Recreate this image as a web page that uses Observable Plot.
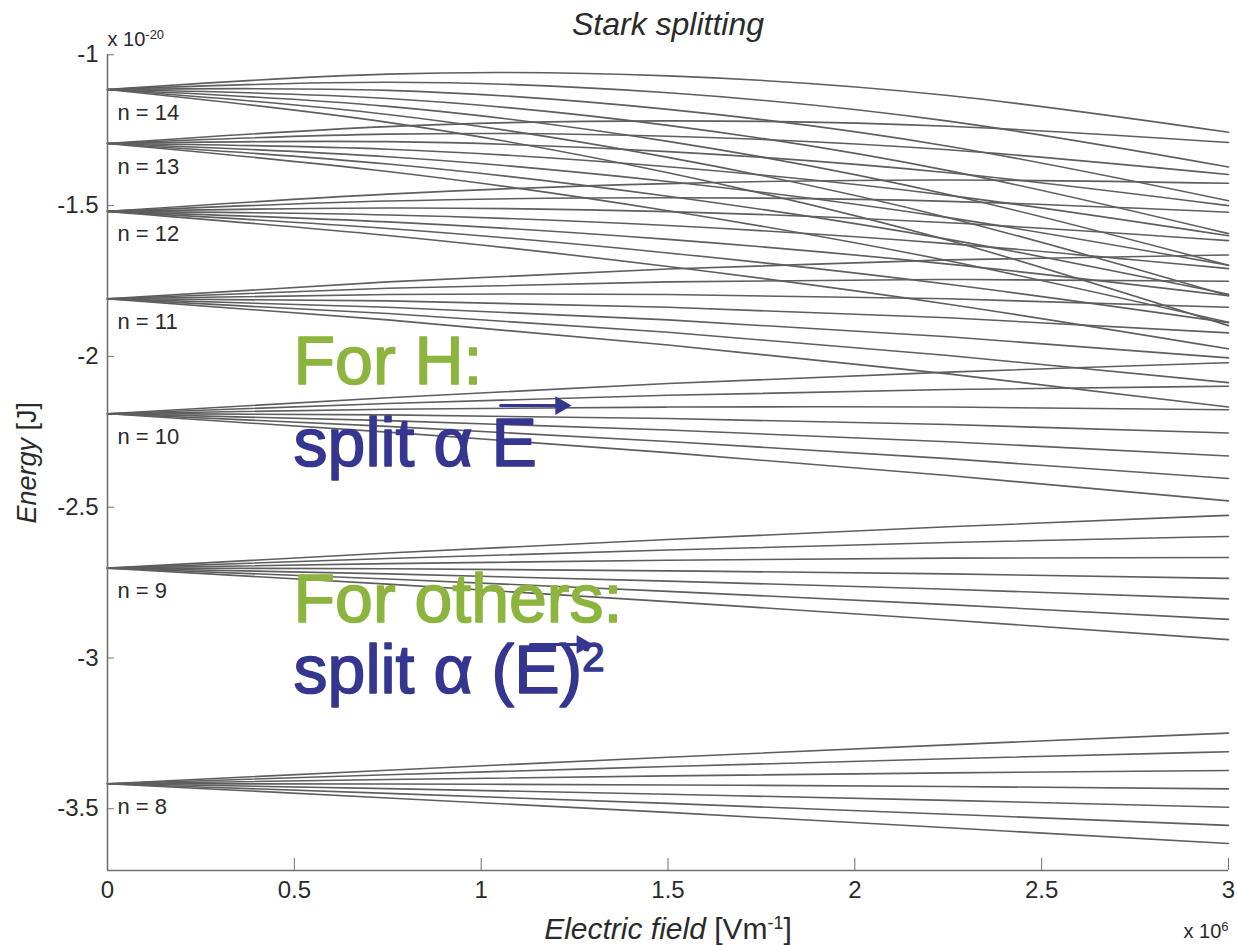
<!DOCTYPE html>
<html><head><meta charset="utf-8">
<script src="https://cdn.jsdelivr.net/npm/d3@7"></script>
<script src="https://cdn.jsdelivr.net/npm/@observablehq/plot@0.6"></script>
<style>body{margin:0;background:#fff}svg{display:block}</style>
</head><body><div id="chart"></div>
<script>
// Electric field sample positions (x 10^6 V/m)
const fieldX = [0, 0.75, 1.5, 2.25, 3];
// Energy (x 10^-20 J) of the 7 Stark components of each level, at fieldX
const n14 = [
 [-1.115, -1.064, -1.070, -1.135, -1.257],
 [-1.115, -1.091, -1.126, -1.220, -1.372],
 [-1.115, -1.118, -1.181, -1.303, -1.484],
 [-1.115, -1.145, -1.234, -1.384, -1.593],
 [-1.115, -1.171, -1.287, -1.463, -1.698],
 [-1.115, -1.198, -1.340, -1.540, -1.799],
 [-1.115, -1.224, -1.391, -1.615, -1.898]
];
const n13 = [
 [-1.294, -1.238, -1.219, -1.237, -1.291],
 [-1.294, -1.263, -1.270, -1.315, -1.397],
 [-1.294, -1.288, -1.321, -1.391, -1.500],
 [-1.294, -1.313, -1.371, -1.466, -1.600],
 [-1.294, -1.338, -1.420, -1.540, -1.698],
 [-1.294, -1.362, -1.469, -1.612, -1.794],
 [-1.294, -1.387, -1.517, -1.683, -1.887]
];
const n12 = [
 [-1.519, -1.462, -1.427, -1.415, -1.426],
 [-1.519, -1.485, -1.474, -1.486, -1.522],
 [-1.519, -1.508, -1.520, -1.557, -1.616],
 [-1.519, -1.531, -1.566, -1.626, -1.709],
 [-1.519, -1.554, -1.612, -1.694, -1.799],
 [-1.519, -1.576, -1.657, -1.761, -1.888],
 [-1.519, -1.599, -1.702, -1.827, -1.975]
];
const n11 = [
 [-1.809, -1.753, -1.710, -1.680, -1.664],
 [-1.809, -1.774, -1.753, -1.745, -1.751],
 [-1.809, -1.795, -1.795, -1.809, -1.837],
 [-1.809, -1.816, -1.837, -1.872, -1.922],
 [-1.809, -1.837, -1.879, -1.935, -2.005],
 [-1.809, -1.858, -1.920, -1.997, -2.087],
 [-1.809, -1.879, -1.962, -2.058, -2.168]
];
const n10 = [
 [-2.190, -2.137, -2.090, -2.052, -2.021],
 [-2.190, -2.156, -2.129, -2.110, -2.099],
 [-2.190, -2.175, -2.168, -2.168, -2.177],
 [-2.190, -2.194, -2.206, -2.226, -2.254],
 [-2.190, -2.213, -2.244, -2.283, -2.330],
 [-2.190, -2.232, -2.282, -2.339, -2.405],
 [-2.190, -2.251, -2.319, -2.395, -2.479]
];
const n9 = [
 [-2.702, -2.652, -2.607, -2.565, -2.527],
 [-2.702, -2.670, -2.642, -2.617, -2.597],
 [-2.702, -2.687, -2.676, -2.669, -2.667],
 [-2.702, -2.704, -2.711, -2.721, -2.736],
 [-2.702, -2.721, -2.745, -2.772, -2.804],
 [-2.702, -2.738, -2.779, -2.823, -2.872],
 [-2.702, -2.755, -2.813, -2.874, -2.939]
];
const n8 = [
 [-3.417, -3.372, -3.329, -3.288, -3.249],
 [-3.417, -3.387, -3.360, -3.334, -3.311],
 [-3.417, -3.403, -3.391, -3.381, -3.373],
 [-3.417, -3.418, -3.421, -3.426, -3.434],
 [-3.417, -3.433, -3.452, -3.472, -3.495],
 [-3.417, -3.449, -3.482, -3.518, -3.555],
 [-3.417, -3.464, -3.512, -3.563, -3.615]
];
const levels = [14, 13, 12, 11, 10, 9, 8];
const levelSets = [n14, n13, n12, n11, n10, n9, n8];
const levelLabels = ["n = 14", "n = 13", "n = 12", "n = 11", "n = 10", "n = 9", "n = 8"];
const xTicks = [0, 0.5, 1, 1.5, 2, 2.5, 3];
const yTicks = [-1, -1.5, -2, -2.5, -3, -3.5];
const notes = ["For H:", "split \u03B1 E", "For others:", "split \u03B1 (E)2"];
const green = "#8db43e", navy = "#35368f";

const rows = [];
levelSets.forEach((set, li) => set.forEach((line, k) => line.forEach((e, p) => {
  rows.push({id: levels[li] + "-" + k, x: fieldX[p], e});
})));
const starts = levelSets.map((s, i) => ({label: levelLabels[i], e: s[0][0]}));

const yMin = -3.7046, yMax = -1;
const axisCol = "#707070", textCol = "#2a2a2a";
const noteStyle = {lineAnchor: "bottom", textAnchor: "start", fontSize: 68, strokeWidth: 1.6, paintOrder: "fill"};
const arrow1 = [{x: 1.052, e: -2.163}, {x: 1.205, e: -2.163}];
const arrow2 = [{x: 1.132, e: -2.955}, {x: 1.262, e: -2.955}];

const plot = Plot.plot({
  width: 1235, height: 945,
  marginLeft: 107, marginRight: 7, marginTop: 54.3, marginBottom: 75,
  style: {fontFamily: "'Liberation Sans', Arial, sans-serif", background: "#fff", color: textCol},
  x: {domain: [0, 3]},
  y: {domain: [yMin, yMax]},
  marks: [
    Plot.line(rows, {x: "x", y: "e", z: "id", curve: "natural", stroke: "#5e5e5e", strokeWidth: 1.6}),
    Plot.ruleX([0], {stroke: axisCol, strokeWidth: 1.6}),
    Plot.ruleY([yMin], {stroke: axisCol, strokeWidth: 1.6}),
    Plot.axisX({ticks: xTicks, tickSize: -12, tickPadding: 22, tickFormat: d => String(d), fontSize: 24, stroke: axisCol, fill: textCol, label: null}),
    Plot.axisY({ticks: yTicks, tickSize: -7, tickPadding: 16, tickFormat: d => String(d), fontSize: 24, stroke: axisCol, fill: textCol, label: null}),
    Plot.text(starts, {x: 0, y: "e", text: "label", dx: 10, dy: 23, textAnchor: "start", fontSize: 22, fill: textCol}),
    Plot.text(["Stark splitting"], {frameAnchor: "top", lineAnchor: "middle", dy: -30, fontSize: 32, fontStyle: "italic", fill: textCol}),
    Plot.text(["x 10^-20"], {frameAnchor: "top-left", dy: -9, lineAnchor: "bottom", textAnchor: "start", fontSize: 20, fill: textCol}),
    Plot.text(["x 10^6"], {frameAnchor: "bottom-right", dy: 67, lineAnchor: "bottom", textAnchor: "end", fontSize: 20, fill: textCol}),
    Plot.text(["Electric field [Vm-1]"], {frameAnchor: "bottom", dy: 68, lineAnchor: "bottom", fontSize: 30, fill: textCol}),
    Plot.text(["Energy [J]"], {frameAnchor: "left", dx: -80, rotate: -90, textAnchor: "middle", fontSize: 27, fill: textCol}),
    Plot.text([notes[0]], {...noteStyle, x: 0.498, y: -2.09, fill: green, stroke: green}),
    Plot.text([notes[1]], {...noteStyle, x: 0.498, y: -2.362, fill: navy, stroke: navy}),
    Plot.text([notes[2]], {...noteStyle, x: 0.498, y: -2.882, fill: green, stroke: green}),
    Plot.text([notes[3]], {...noteStyle, x: 0.498, y: -3.115, fill: navy, stroke: navy}),
    Plot.line(arrow1, {x: "x", y: "e", stroke: navy, strokeWidth: 3}),
    Plot.dot(arrow1.slice(1), {x: "x", y: "e", symbol: "triangle", r: 7, rotate: 90, fill: navy, dx: 3}),
    Plot.line(arrow2, {x: "x", y: "e", stroke: navy, strokeWidth: 3}),
    Plot.dot(arrow2.slice(1), {x: "x", y: "e", symbol: "triangle", r: 7, rotate: 90, fill: navy, dx: 3})
  ]
});
document.getElementById("chart").appendChild(plot);

const svg = d3.select(plot);
function rich(content, parts) {
  svg.selectAll("text").filter(function() { return this.textContent === content; }).each(function() {
    const t = d3.select(this);
    t.text(null);
    parts.forEach(p => {
      const s = t.append("tspan").text(p.t);
      if (p.italic) s.attr("font-style", "italic");
      if (p.sup) s.attr("font-size", p.sup).attr("baseline-shift", "super");
      if (p.raise) s.attr("font-size", p.size).attr("dy", -p.raise);
    });
  });
}
rich("x 10^-20", [{t: "x 10"}, {t: "-20", sup: 13}]);
rich("x 10^6", [{t: "x 10"}, {t: "6", sup: 13}]);
rich("Electric field [Vm-1]", [{t: "Electric field", italic: true}, {t: " [Vm"}, {t: "-1", sup: 18}, {t: "]"}]);
rich("Energy [J]", [{t: "Energy", italic: true}, {t: " [J]"}]);
rich(notes[3], [{t: "split \u03B1 (E)"}, {t: "2", size: 40, raise: 22}]);
</script></body></html>
